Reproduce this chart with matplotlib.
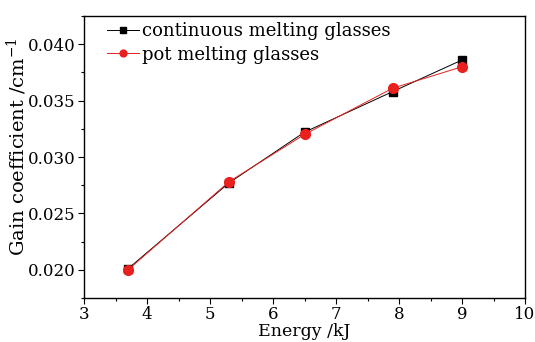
import matplotlib
matplotlib.use("Agg")
import matplotlib.pyplot as plt
from matplotlib.ticker import MultipleLocator

plt.rcParams["font.family"] = ["DejaVu Serif"]
plt.rcParams["mathtext.fontset"] = "dejavuserif"

energy = [3.7, 5.3, 6.5, 7.9, 9.0]
continuous = [0.0201, 0.0277, 0.0322, 0.0358, 0.0386]
pot = [0.0200, 0.0278, 0.0320, 0.0361, 0.0380]

fig = plt.figure(figsize=(5.35, 3.42), dpi=100)
ax = fig.add_axes([84 / 535, 1 - 298 / 342, 441 / 535, 282 / 342])

ax.plot(energy, continuous, "s-", color="black", linewidth=0.7, markersize=6,
        label="continuous melting glasses")
ax.plot(energy, pot, "o-", color="#e8201e", linewidth=0.7, markersize=7,
        label="pot melting glasses")

ax.set_xlim(3, 10)
ax.set_ylim(0.0175, 0.0425)
ax.xaxis.set_major_locator(MultipleLocator(1))
ax.xaxis.set_minor_locator(MultipleLocator(0.5))
ax.yaxis.set_major_locator(MultipleLocator(0.005))
ax.yaxis.set_minor_locator(MultipleLocator(0.0025))
ax.yaxis.set_major_formatter(plt.FuncFormatter(lambda v, p: f"{v:.3f}"))
ax.tick_params(which="major", direction="out", length=4, labelsize=12,
               width=0.8, pad=2)
ax.tick_params(which="minor", direction="out", length=2.5, width=0.8)
for s in ax.spines.values():
    s.set_linewidth(1.0)

ax.set_xlabel("Energy /kJ", fontsize=12.5)
ax.xaxis.set_label_coords(0.5, -0.09)
ax.set_ylabel("Gain coefficient /cm$^{-1}$", fontsize=14)
ax.yaxis.set_label_coords(-0.125, 0.535)

ax.legend(loc="upper left", bbox_to_anchor=(0.052, 0.978), frameon=False,
          fontsize=13, handlelength=1.75, handletextpad=0.2, borderaxespad=0,
          labelspacing=0.3, borderpad=0, markerscale=0.7)

plt.savefig("out.png", dpi=100)
